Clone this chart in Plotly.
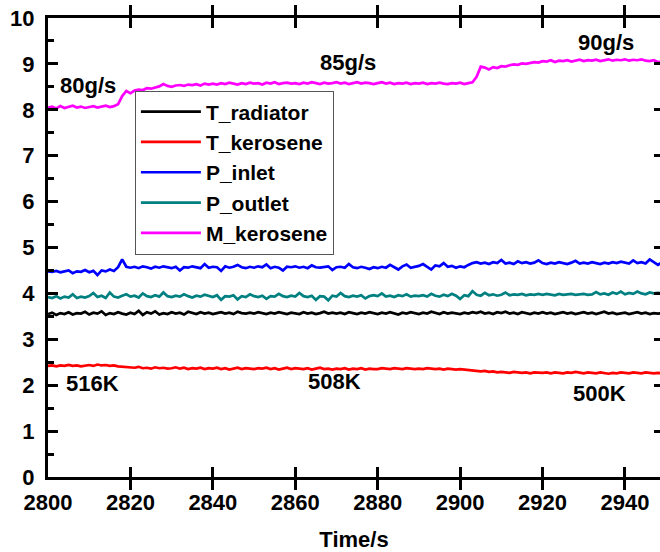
import plotly.graph_objects as go

# Time axis (s), one sample per second
time_s = list(range(2800, 2950))

T_radiator = [
    3.55, 3.58, 3.53, 3.57, 3.55, 3.59, 3.54, 3.57, 3.56, 3.60,
    3.54, 3.58, 3.56, 3.61, 3.53, 3.57, 3.55, 3.59, 3.56, 3.54,
    3.58, 3.55, 3.62, 3.53, 3.59, 3.56, 3.61, 3.54, 3.57, 3.55,
    3.59, 3.56, 3.58, 3.54, 3.60, 3.57, 3.55, 3.59, 3.56, 3.58,
    3.55, 3.57, 3.59, 3.56, 3.58, 3.55, 3.60, 3.57, 3.56, 3.58,
    3.56, 3.59, 3.57, 3.55, 3.58, 3.56, 3.59, 3.57, 3.55, 3.58,
    3.57, 3.55, 3.59, 3.56, 3.58, 3.55, 3.57, 3.60, 3.56, 3.58,
    3.56, 3.58, 3.55, 3.59, 3.57, 3.55, 3.58, 3.56, 3.59, 3.57,
    3.55, 3.58, 3.56, 3.59, 3.57, 3.54, 3.58, 3.56, 3.59, 3.57,
    3.55, 3.58, 3.56, 3.60, 3.57, 3.55, 3.59, 3.56, 3.58, 3.57,
    3.55, 3.58, 3.56, 3.59, 3.57, 3.60, 3.56, 3.58, 3.55, 3.59,
    3.57, 3.60, 3.56, 3.58, 3.55, 3.59, 3.57, 3.55, 3.58, 3.56,
    3.59, 3.56, 3.58, 3.55, 3.57, 3.59, 3.56, 3.58, 3.55, 3.57,
    3.59, 3.56, 3.58, 3.55, 3.57, 3.60, 3.56, 3.58, 3.55, 3.57,
    3.58, 3.55, 3.57, 3.59, 3.56, 3.58, 3.55, 3.57, 3.56, 3.57,
]

T_kerosene = [
    2.42, 2.43, 2.41, 2.43, 2.42, 2.44, 2.42, 2.43, 2.41, 2.43,
    2.44, 2.42, 2.45, 2.43, 2.44, 2.42, 2.43, 2.41, 2.40, 2.40,
    2.39, 2.38, 2.40, 2.37, 2.38, 2.36, 2.39, 2.37, 2.38, 2.36,
    2.37, 2.39, 2.36, 2.38, 2.35, 2.37, 2.36, 2.38, 2.35, 2.37,
    2.36, 2.38, 2.35, 2.37, 2.34, 2.36, 2.38, 2.35, 2.37, 2.36,
    2.35, 2.37, 2.36, 2.38, 2.35, 2.37, 2.34, 2.36, 2.38, 2.35,
    2.37, 2.36, 2.35, 2.37, 2.34, 2.36, 2.38, 2.35, 2.36, 2.34,
    2.36, 2.35, 2.37, 2.34, 2.36, 2.35, 2.37, 2.34, 2.36, 2.35,
    2.35, 2.37, 2.36, 2.35, 2.37, 2.36, 2.35, 2.37, 2.36, 2.35,
    2.36, 2.35, 2.37, 2.36, 2.35, 2.36, 2.34, 2.36, 2.35, 2.34,
    2.35, 2.34, 2.33, 2.32, 2.31, 2.30, 2.31, 2.29, 2.30, 2.28,
    2.29, 2.28, 2.27, 2.29, 2.28, 2.27, 2.28, 2.26, 2.28, 2.27,
    2.27, 2.28, 2.26, 2.28, 2.27, 2.26, 2.28, 2.27, 2.29, 2.27,
    2.26, 2.28, 2.27, 2.26, 2.28, 2.27, 2.25, 2.27, 2.26, 2.28,
    2.27, 2.26, 2.28, 2.27, 2.26, 2.28, 2.27, 2.26, 2.27, 2.26,
]

P_inlet = [
    4.48, 4.47, 4.49, 4.46, 4.48, 4.50, 4.44, 4.48, 4.47, 4.51,
    4.46, 4.49, 4.40, 4.50, 4.48, 4.52, 4.49, 4.57, 4.74, 4.58,
    4.56, 4.58, 4.55, 4.59, 4.57, 4.54, 4.58, 4.56, 4.59, 4.57,
    4.55, 4.58, 4.50, 4.57, 4.56, 4.59, 4.57, 4.55, 4.64, 4.56,
    4.58, 4.57, 4.49, 4.59, 4.56, 4.58, 4.62, 4.57, 4.55, 4.58,
    4.56, 4.59, 4.57, 4.63, 4.55, 4.58, 4.56, 4.50, 4.58, 4.57,
    4.59, 4.56, 4.58, 4.55, 4.61, 4.57, 4.56, 4.58, 4.59, 4.51,
    4.57, 4.58, 4.56, 4.64, 4.57, 4.55, 4.58, 4.56, 4.53, 4.57,
    4.55, 4.58, 4.56, 4.62, 4.57, 4.52, 4.59, 4.63, 4.56, 4.58,
    4.60, 4.64, 4.57, 4.52, 4.61, 4.59, 4.66, 4.58, 4.60, 4.56,
    4.59, 4.57, 4.62, 4.66, 4.68, 4.65, 4.67, 4.64, 4.68, 4.66,
    4.73, 4.65, 4.67, 4.64, 4.70, 4.66, 4.68, 4.65, 4.67, 4.72,
    4.66, 4.64, 4.67, 4.65, 4.68, 4.66, 4.64, 4.67, 4.71, 4.65,
    4.67, 4.65, 4.68, 4.66, 4.64, 4.67, 4.65, 4.68, 4.66, 4.69,
    4.67, 4.65, 4.72, 4.66, 4.68, 4.65, 4.74, 4.67, 4.62, 4.68,
]

P_outlet = [
    3.92, 3.90, 3.94, 3.89, 3.93, 3.91, 3.98, 3.90, 3.93, 3.91,
    3.94, 4.01, 3.92, 3.95, 3.90, 4.02, 3.93, 3.91, 3.95, 3.98,
    3.93, 3.95, 3.91, 4.00, 3.94, 3.92, 3.96, 3.93, 4.02, 3.94,
    3.92, 3.95, 3.93, 3.98, 3.94, 3.91, 3.95, 3.93, 3.97, 3.94,
    3.92, 3.96, 3.86, 3.94, 3.93, 3.96, 3.87, 3.94, 3.92, 3.98,
    3.94, 3.92, 3.95, 3.88, 3.94, 3.93, 3.99, 3.94, 3.92, 3.95,
    3.93, 4.01, 3.94, 3.92, 3.95, 3.86, 3.94, 3.93, 3.85, 3.95,
    3.93, 4.01, 3.94, 3.92, 3.95, 3.93, 3.96, 3.89, 3.94, 3.96,
    3.94, 4.00, 3.93, 3.95, 3.92, 3.96, 3.94, 3.98, 3.93, 3.95,
    3.94, 3.96, 3.93, 3.99, 3.95, 3.93, 3.97, 3.94, 3.99, 3.95,
    3.88, 3.96, 3.94, 4.05, 3.97, 3.95, 4.01, 3.96, 3.98, 3.95,
    3.97, 4.02, 3.96, 3.98, 3.97, 3.99, 3.96, 3.98, 3.97, 3.99,
    3.97, 3.99, 3.98, 3.96, 3.99, 3.97, 3.98, 3.99, 3.97, 3.98,
    3.99, 3.97, 3.98, 4.03, 3.98, 4.00, 3.97, 4.02, 3.99, 4.04,
    3.98, 4.01, 3.99, 4.04, 4.00, 3.98, 4.02, 4.00, 4.01, 4.00,
]

M_kerosene = [
    8.05, 8.07, 8.03, 8.08, 8.04, 8.06, 8.09, 8.05, 8.07, 8.04,
    8.06, 8.08, 8.05, 8.07, 8.09, 8.06, 8.08, 8.12, 8.30, 8.41,
    8.36, 8.42, 8.44, 8.43, 8.47, 8.46, 8.49, 8.51, 8.56, 8.52,
    8.50, 8.53, 8.54, 8.52, 8.55, 8.54, 8.56, 8.53, 8.57, 8.55,
    8.57, 8.55, 8.58, 8.56, 8.59, 8.57, 8.55, 8.58, 8.56, 8.59,
    8.57, 8.58, 8.55, 8.59, 8.57, 8.60, 8.56, 8.58, 8.59, 8.57,
    8.58, 8.56, 8.59, 8.57, 8.60, 8.58, 8.56, 8.59, 8.57, 8.58,
    8.60, 8.57, 8.59, 8.56, 8.58, 8.60, 8.57, 8.59, 8.58, 8.56,
    8.58, 8.60, 8.57, 8.59, 8.56, 8.58, 8.57, 8.59, 8.56, 8.58,
    8.57, 8.59, 8.56, 8.58, 8.57, 8.59, 8.57, 8.56, 8.58, 8.57,
    8.59, 8.56, 8.58, 8.60, 8.72, 8.94, 8.92, 8.88, 8.93, 8.91,
    8.95, 8.94, 8.97, 8.99, 8.98, 9.01, 9.00, 9.02, 9.04, 9.03,
    9.06, 9.05, 9.08, 9.04, 9.07, 9.06, 9.08, 9.05, 9.07, 9.09,
    9.06, 9.08, 9.07, 9.09, 9.06, 9.08, 9.10, 9.07, 9.09, 9.08,
    9.10, 9.07, 9.09, 9.08, 9.10, 9.07, 9.06, 9.08, 9.04, 9.05,
]

series_names = ["T_radiator", "T_kerosene", "P_inlet", "P_outlet", "M_kerosene"]
series_values = [T_radiator, T_kerosene, P_inlet, P_outlet, M_kerosene]
series_colors = ["#000000", "#ff0000", "#0000ff", "#008080", "#ff00ff"]

# Annotation labels and their data positions
label_texts = ["80g/s", "85g/s", "90g/s", "516K", "508K", "500K"]
label_x = [2809.8, 2872.8, 2935.4, 2810.7, 2869.4, 2933.7]
label_y = [8.54, 9.04, 9.46, 2.03, 2.07, 1.83]

FONT = "Liberation Sans, Arial, sans-serif"

fig = go.Figure()
for name, vals, col in zip(series_names, series_values, series_colors):
    fig.add_trace(go.Scatter(x=time_s, y=vals, mode="lines", name=name,
                             line=dict(color=col, width=2.7)))

# invisible trace that activates the right-hand tick axis
fig.add_trace(go.Scatter(x=time_s, y=T_radiator, yaxis="y2", mode="lines",
                         line=dict(width=0, color="rgba(0,0,0,0)"),
                         showlegend=False, hoverinfo="skip"))

for t, xx, yy in zip(label_texts, label_x, label_y):
    fig.add_annotation(x=xx, y=yy, text=t, showarrow=False,
                       font=dict(family=FONT, size=22, color="black", weight="bold"))

tickfont = dict(family=FONT, size=22, color="black", weight="bold")

fig.update_layout(
    width=660, height=552,
    margin=dict(l=48, r=0, t=18, b=75),
    paper_bgcolor="white", plot_bgcolor="white",
    showlegend=True,
    legend=dict(x=0.142, y=0.842, xanchor="left", yanchor="top",
                bgcolor="white", bordercolor="#555555", borderwidth=1,
                font=dict(family=FONT, size=21, color="black", weight="bold"),
                itemwidth=60, tracegroupgap=0),
    xaxis=dict(range=[2800, 2948.5], dtick=20, tick0=2800,
               showline=True, linecolor="black", linewidth=3, mirror="allticks",
               ticks="inside", ticklen=10, tickwidth=3, tickcolor="black",
               showgrid=False, zeroline=False, tickfont=tickfont, ticklabelstandoff=4,
               title=dict(text="Time/s", font=dict(family=FONT, size=22, color="black", weight="bold"), standoff=22)),
    yaxis=dict(range=[0, 10], dtick=1, tick0=0,
               showline=True, linecolor="black", linewidth=3, mirror=False,
               ticks="inside", ticklen=10, tickwidth=3, tickcolor="black",
               minor=dict(ticks="inside", ticklen=6, tickwidth=3, dtick=0.5),
               showgrid=False, zeroline=False, tickfont=tickfont, ticklabelstandoff=6),
    yaxis2=dict(range=[0, 10], dtick=1, tick0=0, overlaying="y", side="right",
                showline=False, ticks="inside", ticklen=6, tickwidth=3, tickcolor="black",
                showticklabels=False, showgrid=False, zeroline=False),
)

fig.write_html("out.html")
